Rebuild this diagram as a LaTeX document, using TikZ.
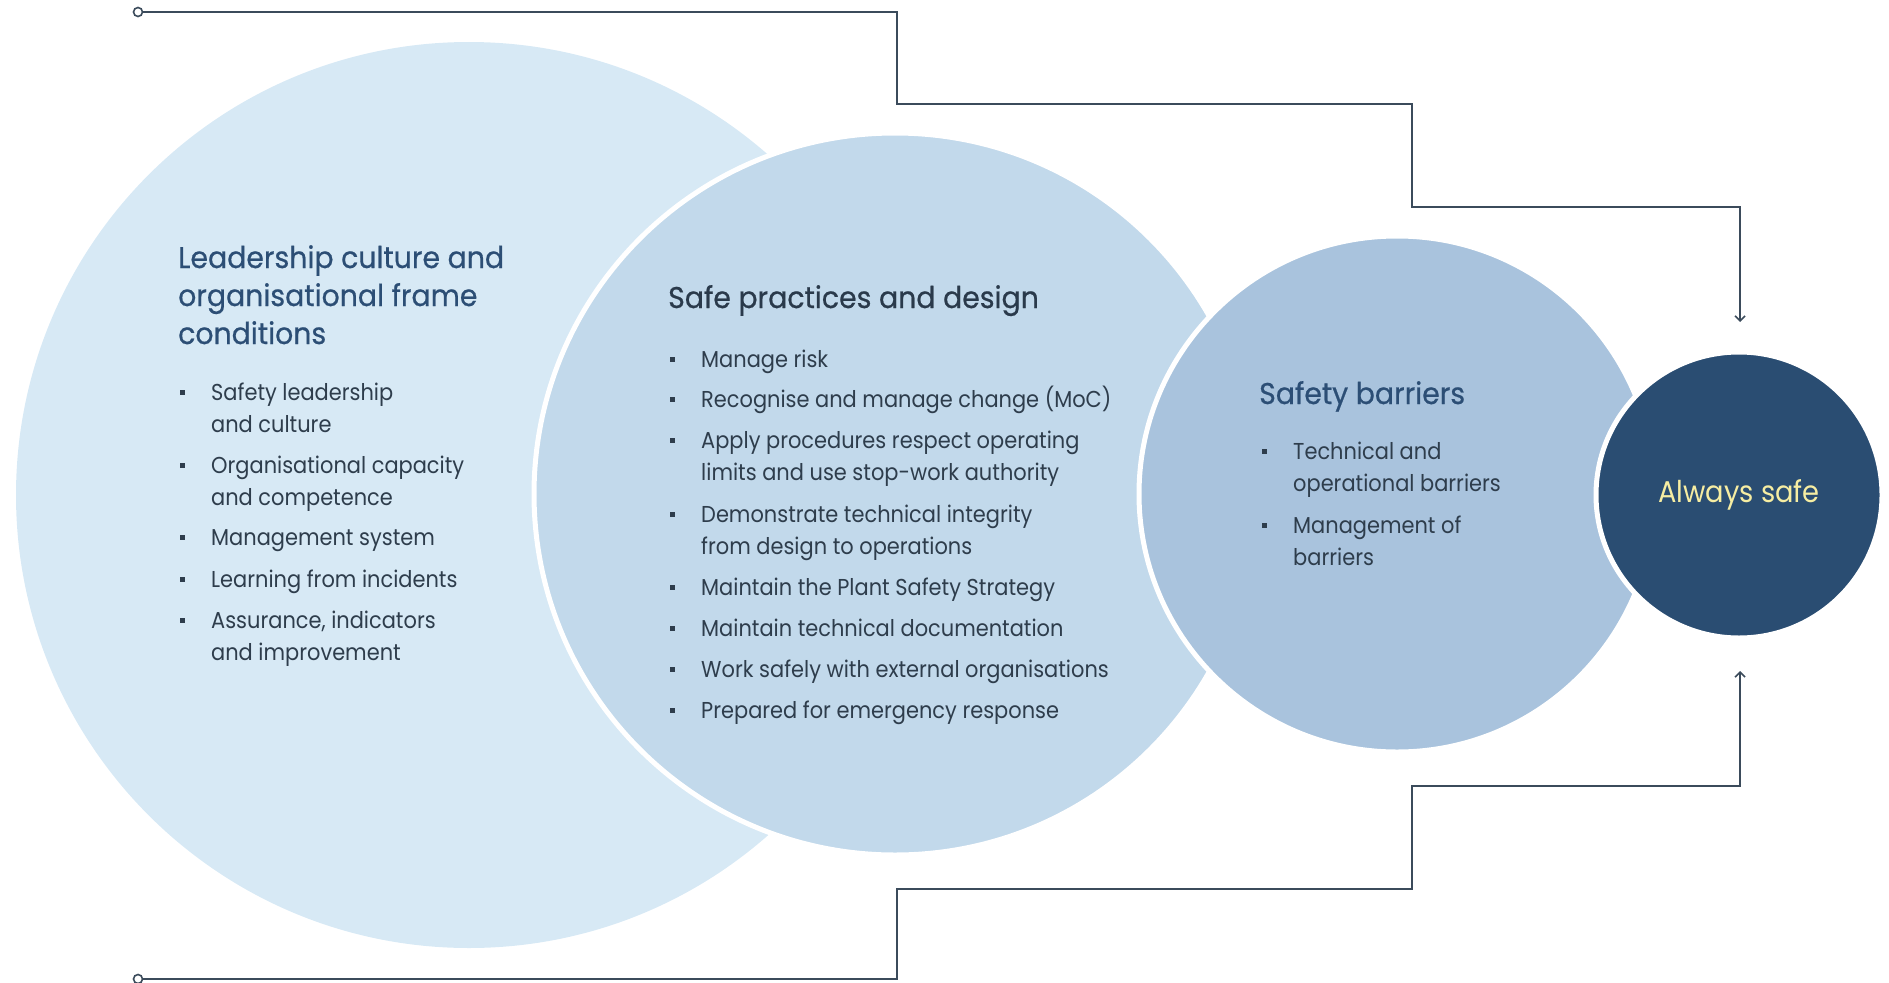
\documentclass[tikz,border=0pt]{standalone}
\usepackage{fontspec}
\setmainfont{Poppins}
\newfontfamily\bodyf{Poppins}[FakeStretch=0.91]
\newfontfamily\ttlf{Poppins}[FakeStretch=0.945, FakeBold=0.6]
\usetikzlibrary{arrows.meta}
\definecolor{cone}{HTML}{D7E9F5}
\definecolor{ctwo}{HTML}{C2D9EB}
\definecolor{cthree}{HTML}{A9C3DD}
\definecolor{cfour}{HTML}{2A4D72}
\definecolor{ttlblue}{HTML}{2C4E75}
\definecolor{ttldark}{HTML}{2A3A4B}
\definecolor{bodytxt}{HTML}{2E3D4C}
\definecolor{linec}{HTML}{3B4B5B}
\definecolor{safey}{HTML}{F6EDA2}
\begin{document}
\begin{tikzpicture}[x=1pt,y=-1pt,
  disc/.style={circle, inner sep=0pt, draw=white, line width=5pt},
  ttl/.style={anchor=base west, inner sep=0pt, font=\ttlf\fontsize{30}{38}\selectfont, text=ttlblue},
  txt/.style={anchor=base west, inner sep=0pt, font=\bodyf\fontsize{23}{32}\selectfont, text=bodytxt},
  bul/.style={fill=bodytxt, inner sep=0pt, minimum size=5pt},
  conn/.style={draw=linec, line width=1.8pt},
  startpt/.style={circle, draw=linec, line width=1.6pt, fill=white, inner sep=0pt, minimum size=9pt},
  tip/.style={-{Straight Barb[length=5pt,width=10pt,line width=1.6pt]}}
]
\useasboundingbox (0,0) rectangle (1889,982);

% circles
\node[disc, fill=cone, draw=none, minimum size=906pt] (c1) at (469,495) {};
\node[disc, fill=ctwo, minimum size=722pt] (c2) at (895,494) {};
\node[disc, fill=cthree, minimum size=516pt] (c3) at (1397,494) {};
\node[disc, fill=cfour, minimum size=286pt] (c4) at (1739,495) {};

% connectors
\node[startpt] (s1) at (138,12) {};
\node[startpt] (s2) at (138,979) {};
\coordinate (e1) at (1740,322);
\coordinate (e2) at (1740,671);
\draw[conn, tip] (s1.east) -- (897,12) -- (897,104) -- (1412,104) -- (1412,207) -- (1740,207) -- (e1);
\draw[conn, tip] (s2.east) -- (897,979) -- (897,889) -- (1412,889) -- (1412,786) -- (1740,786) -- (e2);

% left circle texts
\node[ttl] (t1a) at (178,268) {Leadership culture and};
\node[ttl] (t1b) at (178,306) {organisational frame};
\node[ttl] (t1c) at (178,344) {conditions};
\foreach \yy/\tt [count=\i] in {400/{Safety leadership},432/{and culture},473/{Organisational capacity},505/{and competence},545/{Management system},587/{Learning from incidents},628/{Assurance, indicators},660/{and improvement}}
  \node[txt] (l\i) at (211,\yy) {\tt};
\foreach \yy [count=\i] in {400,473,545,587,628}
  \node[bul] (lb\i) at (182,\yy-8) {};

% middle circle texts
\node[ttl, text=ttldark] (t2) at (668,308) {Safe practices and design};
\foreach \yy/\tt [count=\i] in {367/{Manage risk},407/{Recognise and manage change (MoC)},448/{Apply procedures respect operating},480/{limits and use stop-work authority},522/{Demonstrate technical integrity},554/{from design to operations},595/{Maintain the Plant Safety Strategy},636/{Maintain technical documentation},677/{Work safely with external organisations},718/{Prepared for emergency response}}
  \node[txt] (m\i) at (701,\yy) {\tt};
\foreach \yy [count=\i] in {367,407,448,522,595,636,677,718}
  \node[bul] (mb\i) at (672,\yy-8) {};

% right circle texts
\node[ttl] (t3) at (1259,404) {Safety barriers};
\foreach \yy/\tt [count=\i] in {459/{Technical and},491/{operational barriers},533/{Management of},565/{barriers}}
  \node[txt] (r\i) at (1293,\yy) {\tt};
\foreach \yy [count=\i] in {459,533}
  \node[bul] (rb\i) at (1264,\yy-8) {};

% always safe
\node[inner sep=0pt, font=\bodyf\fontsize{30}{36}\selectfont, text=safey] (t4) at (c4) {Always safe};
\end{tikzpicture}
\end{document}
